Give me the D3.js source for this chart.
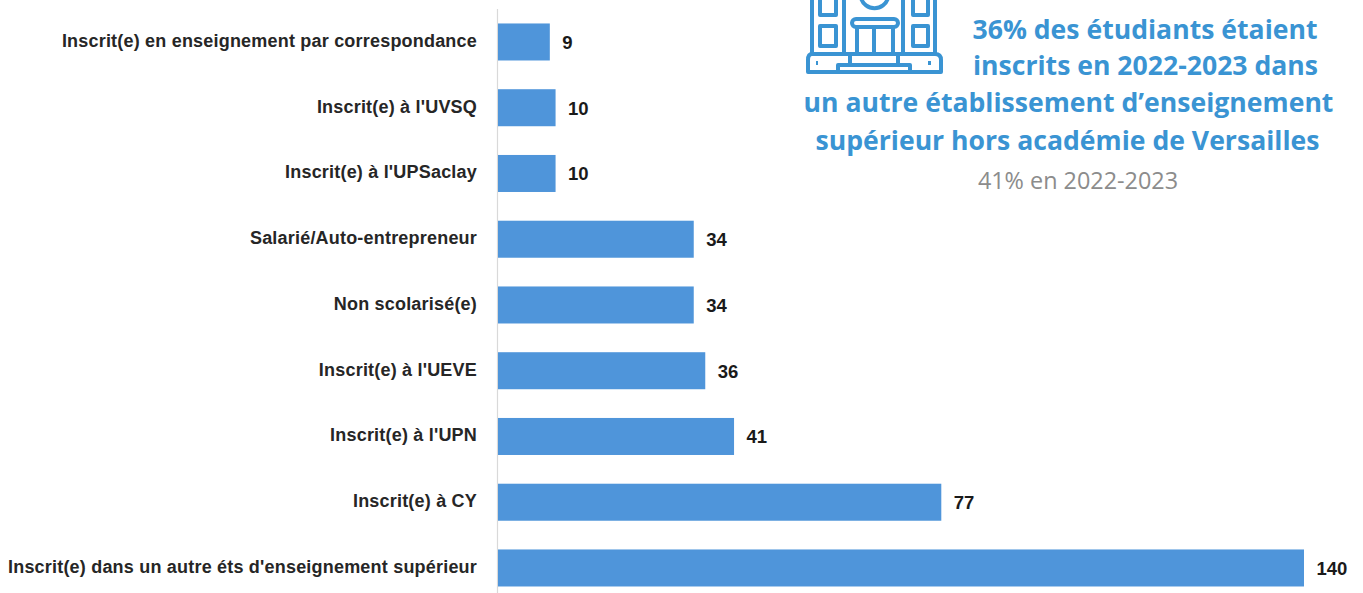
<!DOCTYPE html>
<html><head><meta charset="utf-8">
<script src="https://cdn.jsdelivr.net/npm/d3@7"></script>
<style>html,body{margin:0;padding:0;background:#fff;overflow:hidden}svg{display:block}</style>
</head><body><svg id="c" width="1363" height="593"></svg>
<script>
const categories = ["Inscrit(e) en enseignement par correspondance","Inscrit(e) à l'UVSQ","Inscrit(e) à l'UPSaclay","Salarié/Auto-entrepreneur","Non scolarisé(e)","Inscrit(e) à l'UEVE","Inscrit(e) à l'UPN","Inscrit(e) à CY","Inscrit(e) dans un autre éts d'enseignement supérieur"];
const values = [9,10,10,34,34,36,41,77,140];
const titleLines = ["36% des étudiants étaient","inscrits en 2022-2023 dans","un autre établissement d’enseignement","supérieur hors académie de Versailles"];
const subtitle = "41% en 2022-2023";

const svg = d3.select("#c");
const x = d3.scaleLinear().domain([0,140]).range([498,1304]);
const y = d3.scaleBand().domain(categories).range([9.1,600.85]).paddingInner(0.437).paddingOuter(0.2185);

svg.append("line").attr("x1",497.5).attr("x2",497.5).attr("y1",9).attr("y2",593).attr("stroke","#d9d9d9").attr("stroke-width",1.2);

svg.selectAll("rect.bar").data(values).join("rect").attr("class","bar")
  .attr("x",x(0)).attr("y",(d,i)=>y(categories[i]))
  .attr("width",d=>x(d)-x(0)).attr("height",y.bandwidth()).attr("fill","#4f95da");

svg.selectAll("text.cat").data(categories).join("text").attr("class","cat")
  .attr("x",477).attr("y",d=>y(d)+y.bandwidth()/2-1.5).attr("dy","0.35em").attr("text-anchor","end")
  .attr("font-family","'Liberation Sans',sans-serif").attr("font-weight",700).attr("font-size",18).attr("letter-spacing",0.2).attr("fill","#262626")
  .text(d=>d);

svg.selectAll("text.val").data(values).join("text").attr("class","val")
  .attr("x",d=>x(d)+12.5).attr("y",(d,i)=>y(categories[i])+y.bandwidth()/2+0.5).attr("dy","0.35em")
  .attr("font-family","'Liberation Sans',sans-serif").attr("font-weight",700).attr("font-size",18.5).attr("fill","#1a1a1a")
  .text(d=>d);

const titleX=[1145,1145.5,1068.5,1067.5], titleY=[39,75,112,150];
svg.selectAll("text.title").data(titleLines).join("text").attr("class","title")
  .attr("x",(d,i)=>titleX[i]).attr("y",(d,i)=>titleY[i]).attr("text-anchor","middle")
  .attr("font-family","'Open Sans',sans-serif").attr("font-weight",700).attr("font-size",26.6).attr("fill","#3a94d3")
  .text(d=>d);
svg.append("text").attr("x",1078).attr("y",189).attr("text-anchor","middle")
  .attr("font-family","'Open Sans',sans-serif").attr("font-size",23.4).attr("fill","#8c8c8c").text(subtitle);

// decorative building pictogram
const g = svg.append("g").attr("fill","none").attr("stroke","#3a94d3").attr("stroke-width",4).attr("stroke-linejoin","round");
g.append("path").attr("d","M812,-2V54M844,-2V54M903,-2V54M935,-2V54");
g.append("rect").attr("x",820).attr("y",-6).attr("width",16).attr("height",21);
g.append("rect").attr("x",820).attr("y",26).attr("width",16).attr("height",20);
g.append("rect").attr("x",913).attr("y",-6).attr("width",15).attr("height",21);
g.append("rect").attr("x",913).attr("y",26).attr("width",15).attr("height",20);
g.append("path").attr("d","M861,-2A14,14 0 0 0 888,-2");
g.append("rect").attr("x",852).attr("y",19).attr("width",46).attr("height",8).attr("rx",4);
g.append("path").attr("d","M857,27V54M874,27V54M893,27V54");
g.append("path").attr("d","M812,54H935Q941,54 941,60V72H808V60Q808,54 812,54Z");
g.append("path").attr("d","M838,72V65H910V72M850,54V63M898,54V63");
g.append("path").attr("d","M816,63H818M928,63H931");
</script></body></html>
